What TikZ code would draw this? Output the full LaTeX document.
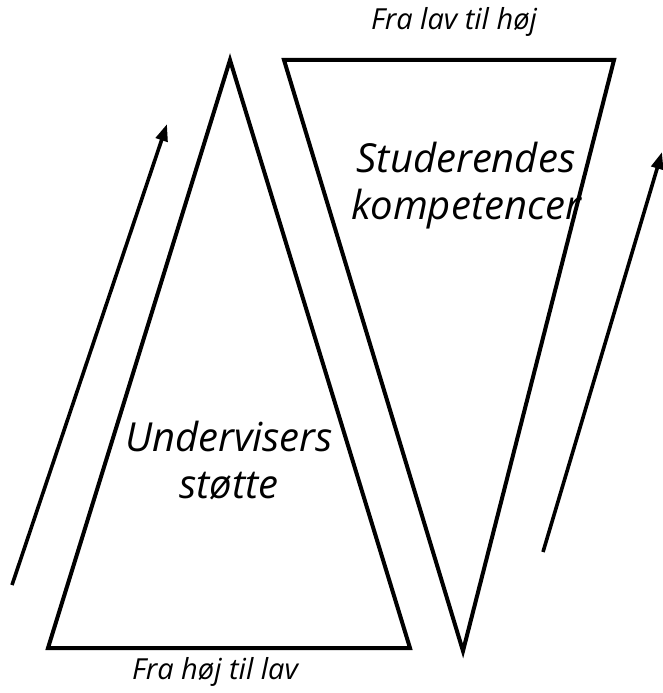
\documentclass[tikz,border=0pt]{standalone}
\usepackage{fontspec}
\setmainfont{Open Sans}
\usetikzlibrary{arrows.meta}
\begin{document}
\begin{tikzpicture}[x=1pt,y=-1pt,
  tri/.style={draw=black,line width=4pt,line join=miter},
  arr/.style={draw=black,line width=3.6pt,-{Triangle[length=17pt,width=12pt]}},
  lab/.style={font=\itshape\fontsize{29}{33}\selectfont,inner sep=0pt},
  big/.style={font=\itshape\fontsize{40}{47}\selectfont,inner sep=0pt,align=center}]
\useasboundingbox (0,0) rectangle (663,693);
\coordinate (la) at (230,60);
\coordinate (ll) at (48,648);
\coordinate (lr) at (410,648);
\coordinate (rl) at (284,60);
\coordinate (rr) at (614,60);
\coordinate (rb) at (463,651);
\draw[tri] (la) -- (lr) -- (ll) -- cycle;
\draw[tri] (rl) -- (rr) -- (rb) -- cycle;
\coordinate (a1s) at (12,585);
\coordinate (a1e) at (167,124);
\coordinate (a2s) at (543,552);
\coordinate (a2e) at (662,152);
\draw[arr] (a1s) -- (a1e);
\draw[arr] (a2s) -- (a2e);
\node[lab] (top) at (454,22) {Fra lav til høj};
\node[lab] (bot) at (215,672) {Fra høj til lav};
\node[big] (st) at (466,186) {Studerendes\\kompetencer};
\node[big] (un) at (229,461) {Undervisers\\støtte};
\end{tikzpicture}
\end{document}
